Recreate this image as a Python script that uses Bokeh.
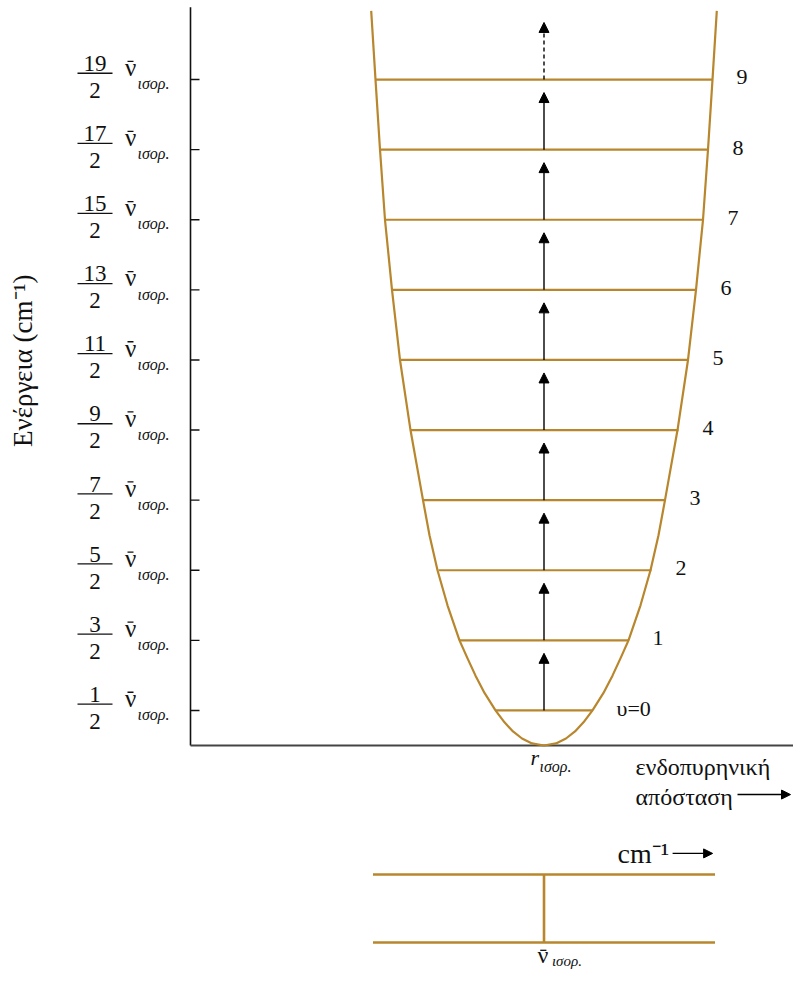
import math
from bokeh.plotting import figure
from bokeh.models import Range1d, Arrow, NormalHead
from bokeh.core.properties import value
from bokeh.embed import file_html
from bokeh.resources import INLINE

# ---------------- data ----------------
# vibrational quantum numbers and energies (units of nu_eq)
quantum_numbers = [0, 1, 2, 3, 4, 5, 6, 7, 8, 9]
level_energy = [0.5, 1.5, 2.5, 3.5, 4.5, 5.5, 6.5, 7.5, 8.5, 9.5]
level_labels = ["υ=0", "1", "2", "3", "4", "5", "6", "7", "8", "9"]
tick_numerators = ["1", "3", "5", "7", "9", "11", "13", "15", "17", "19"]
tick_denominator = "2"
# classical turning points of each level (distance relative to r_eq)
level_left = [-0.485, -0.845, -1.055, -1.205, -1.335, -1.435, -1.515, -1.585, -1.635, -1.685]
level_right = [0.485, 0.845, 1.075, 1.215, 1.345, 1.445, 1.525, 1.595, 1.645, 1.685]
# potential energy curve: energy vs half width
curve_energy = [0.0, 0.03, 0.1, 0.2, 0.33, 0.5, 0.75, 1.0, 1.25, 1.5, 2.0, 2.5, 3.0, 3.5,
                4.5, 5.5, 6.5, 7.5, 8.5, 9.5, 10.48]
curve_halfwidth = [0.0, 0.12, 0.22, 0.31, 0.395, 0.485, 0.595, 0.686, 0.767, 0.845, 0.965,
                   1.065, 1.145, 1.21, 1.335, 1.44, 1.52, 1.59, 1.64, 1.685, 1.728]
# spectrum (wavenumber in units of nu_eq)
spectrum_start = 0.5
spectrum_end = 1.5
spectrum_line = 1.0

GOLD = "#b8862c"
INK = "#111111"
FONT = value("Liberation Serif")

p = figure(width=793, height=973,
           x_range=Range1d(-5.435, 2.495), y_range=Range1d(-3.2525, 10.628),
           x_axis_type=None, y_axis_type=None,
           min_border=0, toolbar_location=None, output_backend="svg",
           outline_line_color=None, background_fill_color="white")
p.extra_x_ranges = {"wn": Range1d(-0.5892, 1.7295)}
p.extra_y_ranges = {"spec": Range1d(-0.4559, 13.853)}

# ---------------- axes (drawn in data space) ----------------
axis_x = -3.535
p.segment(x0=[axis_x], y0=[0.0], x1=[axis_x], y1=[10.53], line_color=INK, line_width=1.6)
p.segment(x0=[axis_x], y0=[0.0], x1=[2.495], y1=[0.0], line_color="#444444", line_width=2.2)
p.segment(x0=[axis_x] * len(level_energy), y0=level_energy,
          x1=[axis_x + 0.09] * len(level_energy), y1=level_energy,
          line_color=INK, line_width=1.4)

# ---------------- potential curve and levels ----------------
cx = [-w for w in curve_halfwidth[::-1]] + curve_halfwidth[1:]
cy = curve_energy[::-1] + curve_energy[1:]
p.line(cx, cy, line_color=GOLD, line_width=2.2, line_join="round")
p.segment(x0=level_left, y0=level_energy, x1=level_right, y1=level_energy,
          line_color=GOLD, line_width=2.2)

# transition arrows
gap = 0.185
for i in range(len(level_energy) - 1):
    p.add_layout(Arrow(end=NormalHead(size=10, fill_color="black", line_color="black"),
                       x_start=0, y_start=level_energy[i], x_end=0,
                       y_end=level_energy[i + 1] - gap,
                       line_color="black", line_width=1.4))
p.add_layout(Arrow(end=NormalHead(size=10, fill_color="black", line_color="black"),
                   x_start=0, y_start=level_energy[-1], x_end=0,
                   y_end=level_energy[-1] + 1 - gap,
                   line_color="black", line_width=1.4, line_dash="4 3"))

# level numbers
p.text(x=[r + 0.24 for r in level_right], y=[e + 0.03 for e in level_energy], text=level_labels,
       text_font=FONT, text_font_size="22px", text_align="left", text_baseline="middle",
       text_color=INK)

# ---------------- y tick labels: fractions * nu_eq ----------------
frac_x = -4.49
n = len(level_energy)
p.text(x=[frac_x] * n, y=[e + 0.23 for e in level_energy], text=tick_numerators,
       text_font=FONT, text_font_size="23px", text_align="center", text_baseline="middle",
       text_color=INK)
p.text(x=[frac_x] * n, y=[e - 0.155 for e in level_energy], text=[tick_denominator] * n,
       text_font=FONT, text_font_size="23px", text_align="center", text_baseline="middle",
       text_color=INK)
p.segment(x0=[frac_x - 0.175] * n, y0=[e + 0.09 for e in level_energy],
          x1=[frac_x + 0.175] * n, y1=[e + 0.09 for e in level_energy],
          line_color=INK, line_width=1.3)
nu_x = -4.19
p.text(x=[nu_x] * n, y=[e + 0.17 for e in level_energy], text=["ν"] * n,
       text_font=FONT, text_font_size="25px", text_align="left", text_baseline="middle",
       text_color=INK)
p.segment(x0=[nu_x + 0.025] * n, y0=[e + 0.26 for e in level_energy],
          x1=[nu_x + 0.085] * n, y1=[e + 0.26 for e in level_energy],
          line_color=INK, line_width=1.3)
p.text(x=[-4.065] * n, y=[e - 0.06 for e in level_energy], text=["ισορ."] * n,
       text_font=FONT, text_font_style="italic", text_font_size="16px",
       text_align="left", text_baseline="middle", text_color=INK)

# y axis title
p.text(x=[-5.215], y=[5.49], text=["Ενέργεια (cm⁻¹)"], angle=math.pi / 2,
       text_font=FONT, text_font_size="27px", text_align="center", text_baseline="middle",
       text_color=INK)

# ---------------- x axis labels ----------------
p.text(x=[-0.05], y=[-0.17], text=["r"], text_font=FONT, text_font_style="italic",
       text_font_size="22px", text_align="right", text_baseline="middle", text_color=INK)
p.text(x=[-0.045], y=[-0.30], text=["ισορ."], text_font=FONT, text_font_style="italic",
       text_font_size="16px", text_align="left", text_baseline="middle", text_color=INK)
p.text(x=[0.915, 0.915], y=[-0.30, -0.73], text=["ενδοπυρηνική", "απόσταση"],
       text_font=FONT, text_font_size="24px", text_align="left", text_baseline="middle",
       text_color=INK)
p.add_layout(Arrow(end=NormalHead(size=9, fill_color="black", line_color="black"),
                   x_start=1.935, y_start=-0.70, x_end=2.465, y_end=-0.70,
                   line_color="black", line_width=1.4))

# ---------------- spectrum ----------------
p.segment(x0=[spectrum_start, spectrum_start], y0=[0.0, 1.0],
          x1=[spectrum_end, spectrum_end], y1=[0.0, 1.0],
          line_color=GOLD, line_width=2.6, x_range_name="wn", y_range_name="spec")
p.segment(x0=[spectrum_line], y0=[0.0], x1=[spectrum_line], y1=[1.0],
          line_color=GOLD, line_width=2.6, x_range_name="wn", y_range_name="spec")
p.text(x=[1.215], y=[1.31], text=["cm⁻¹"], text_font=FONT, text_font_size="28px",
       text_align="left", text_baseline="middle", text_color=INK,
       x_range_name="wn", y_range_name="spec")
p.add_layout(Arrow(end=NormalHead(size=9, fill_color="black", line_color="black"),
                   x_start=1.376, y_start=1.31, x_end=1.493, y_end=1.31,
                   line_color="black", line_width=1.4,
                   x_range_name="wn", y_range_name="spec"))
p.text(x=[0.981], y=[-0.191], text=["ν"], text_font=FONT, text_font_size="24px",
       text_align="left", text_baseline="middle", text_color=INK,
       x_range_name="wn", y_range_name="spec")
p.segment(x0=[0.989], y0=[-0.115], x1=[1.007], y1=[-0.115], line_color=INK, line_width=1.3,
          x_range_name="wn", y_range_name="spec")
p.text(x=[1.023], y=[-0.265], text=["ισορ."], text_font=FONT, text_font_style="italic",
       text_font_size="15px", text_align="left", text_baseline="middle", text_color=INK,
       x_range_name="wn", y_range_name="spec")

open("out.html", "w").write(file_html(p, INLINE))
